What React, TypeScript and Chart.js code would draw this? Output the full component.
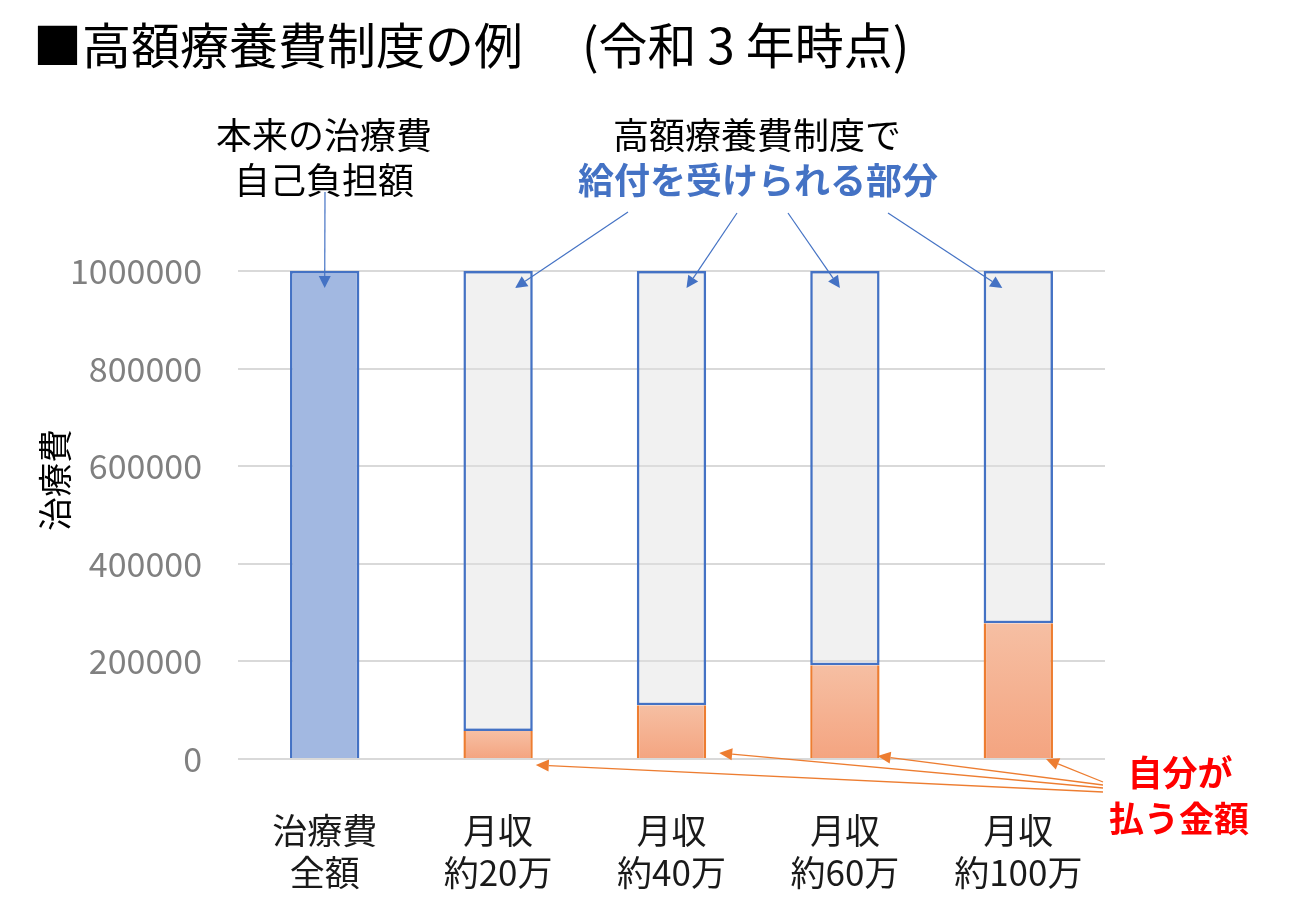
import React, { useEffect, useRef } from "react";
import { Chart, registerables } from "chart.js";

Chart.register(...registerables);

// ---- data ----
const categories: string[][] = [
  ["治療費", "全額"],
  ["月収", "約20万"],
  ["月収", "約40万"],
  ["月収", "約60万"],
  ["月収", "約100万"],
];
const selfPay: number[] = [1000000, 57600, 110000, 192000, 278000];
const benefit: (number | null)[] = [null, 942400, 890000, 808000, 722000];
const yMin = 0;
const yMax = 1000000;
const yStep = 200000;

const titleMain = "■高額療養費制度の例";
const titleNote = "(令和 3 年時点)";
const yAxisTitle = "治療費";
const noteLeft = ["本来の治療費", "自己負担額"];
const noteBenefitTop = "高額療養費制度で";
const noteBenefitBold = "給付を受けられる部分";
const noteSelf = ["自分が", "払う金額"];

// ---- styles ----
const JP = '"Noto Sans CJK JP", "Noto Sans", sans-serif';
const BLUE = "#4472C4";
const ORANGE = "#ED7D31";
const RED = "#FF0000";
const GRID = "#D9D9D9";

function drawArrow(
  ctx: CanvasRenderingContext2D,
  x1: number, y1: number, x2: number, y2: number,
  color: string, head = 12, hw = 6, lw = 1.3
) {
  const a = Math.atan2(y2 - y1, x2 - x1);
  const c = Math.cos(a), s = Math.sin(a);
  const bx = x2 - head * c, by = y2 - head * s;
  ctx.save();
  ctx.strokeStyle = color;
  ctx.fillStyle = color;
  ctx.lineWidth = lw;
  ctx.beginPath();
  ctx.moveTo(x1, y1);
  ctx.lineTo(bx, by);
  ctx.stroke();
  ctx.beginPath();
  ctx.moveTo(x2, y2);
  ctx.lineTo(bx + hw * s, by - hw * c);
  ctx.lineTo(bx - hw * s, by + hw * c);
  ctx.closePath();
  ctx.fill();
  ctx.restore();
}

const annotationPlugin = {
  id: "annotations",
  afterDatasetsDraw(chart: any) {
    const ctx = chart.ctx as CanvasRenderingContext2D;
    const { left, right } = chart.chartArea;
    const y0 = chart.scales.y.getPixelForValue(0);
    ctx.save();
    ctx.strokeStyle = GRID;
    ctx.lineWidth = 2;
    ctx.beginPath();
    ctx.moveTo(left, y0);
    ctx.lineTo(right, y0);
    ctx.stroke();
    ctx.restore();
  },
  afterDraw(chart: any) {
    const ctx = chart.ctx as CanvasRenderingContext2D;
    const ys = chart.scales.y;
    const yTop = ys.getPixelForValue(yMax);
    const yZero = ys.getPixelForValue(0);
    const m0 = chart.getDatasetMeta(0).data;

    ctx.save();
    // title
    ctx.fillStyle = "#000";
    ctx.textBaseline = "middle";
    ctx.textAlign = "left";
    ctx.font = `49px ${JP}`;
    ctx.fillText(titleMain, 33, 45);
    ctx.fillText(titleNote, 582, 45);

    // y axis title
    ctx.save();
    ctx.translate(55, 480);
    ctx.rotate(-Math.PI / 2);
    ctx.textAlign = "center";
    ctx.font = `34px ${JP}`;
    ctx.fillStyle = "#000";
    ctx.fillText(yAxisTitle, 0, 0);
    ctx.restore();

    // notes
    ctx.textAlign = "center";
    ctx.font = `36px ${JP}`;
    ctx.fillStyle = "#000";
    ctx.fillText(noteLeft[0], 324, 135);
    ctx.fillText(noteLeft[1], 324, 180);
    ctx.fillText(noteBenefitTop, 757, 135);
    ctx.font = `bold 36px ${JP}`;
    ctx.fillStyle = BLUE;
    ctx.fillText(noteBenefitBold, 758, 180);
    ctx.fillStyle = RED;
    ctx.font = `bold 35px ${JP}`;
    ctx.fillText(noteSelf[0], 1180, 773);
    ctx.fillText(noteSelf[1], 1179, 819);
    ctx.restore();

    // blue arrows
    const blueStarts = [
      [325, 192],
      [628, 212],
      [737, 213],
      [788, 213],
      [888, 213],
    ];
    const blueDx = [0, 17, 15, -5, -16];
    blueStarts.forEach((p, i) => {
      const el = m0[i];
      if (!el) return;
      drawArrow(ctx, p[0], p[1], el.x + blueDx[i], yTop + 17, BLUE, 12, 6, 1.2);
    });

    // orange arrows
    const oStartY = [0, 792, 788, 785, 782];
    const oDx = [0, 3, 13, -2, -7];
    const oDy = [0, 6, -6, -3, 0];
    for (let i = 1; i < 5; i++) {
      const el = m0[i];
      if (!el) continue;
      const rx = el.x + el.width / 2;
      drawArrow(ctx, 1103, oStartY[i], rx + oDx[i], yZero + oDy[i], ORANGE, 13, 6, 1.3);
    }
  },
};

export default function App() {
  const ref = useRef<HTMLCanvasElement | null>(null);

  useEffect(() => {
    const canvas = ref.current;
    if (!canvas) return;

    const selfColor = (c: any) => {
      const i = c.dataIndex;
      if (i === 0) return "#A2B8E1";
      const chart = c.chart;
      const ys = chart.scales && chart.scales.y;
      if (!chart.chartArea || !ys) return "#F5B293";
      const top = ys.getPixelForValue(selfPay[i]);
      const bot = ys.getPixelForValue(0);
      if (!isFinite(top) || !isFinite(bot) || top === bot) return "#F5B293";
      const g = chart.ctx.createLinearGradient(0, top, 0, bot);
      g.addColorStop(0, "#F6BFA3");
      g.addColorStop(1, "#F4A480");
      return g;
    };

    const chart = new Chart(canvas, {
      type: "bar",
      data: {
        labels: categories,
        datasets: [
          {
            label: "自己負担",
            data: selfPay,
            backgroundColor: selfColor as any,
            borderColor: selfPay.map((_, i) => (i === 0 ? BLUE : ORANGE)),
            borderWidth: selfPay.map((_, i) =>
              i === 0
                ? { top: 2.5, left: 2.5, right: 2.5, bottom: 0 }
                : { top: 0, left: 2.5, right: 2.5, bottom: 0 }
            ) as any,
            borderSkipped: false,
            categoryPercentage: 1,
            barPercentage: 0.4,
          },
          {
            label: "給付",
            data: benefit,
            backgroundColor: "rgba(225,225,225,0.45)",
            borderColor: BLUE,
            borderWidth: 2.5,
            borderSkipped: false,
            categoryPercentage: 1,
            barPercentage: 0.4,
          },
        ],
      },
      options: {
        responsive: false,
        animation: false,
        devicePixelRatio: 1,
        layout: { padding: { top: 271, right: 195, bottom: 0, left: 0 } },
        plugins: {
          legend: { display: false },
          title: { display: false },
          tooltip: { enabled: false },
        },
        scales: {
          x: {
            stacked: true,
            grid: { display: false, drawTicks: false },
            border: { display: false },
            ticks: {
              padding: 50,
              color: "#1A1A1A",
              font: { family: JP, size: 35, lineHeight: 1.22 },
              maxRotation: 0,
              autoSkip: false,
            },
            afterFit: (s: any) => {
              s.height = 161;
            },
          },
          y: {
            stacked: true,
            min: yMin,
            max: yMax,
            grid: { color: GRID, lineWidth: 2, drawTicks: false },
            border: { display: false },
            ticks: {
              stepSize: yStep,
              padding: 36,
              color: "#808080",
              font: { family: JP, size: 34 },
              callback: (v: any) => String(v),
            },
            afterFit: (s: any) => {
              s.width = 238;
            },
          },
        },
      },
      plugins: [annotationPlugin],
    });

    return () => chart.destroy();
  }, []);

  return (
    <div style={{ position: "absolute", left: 0, top: 0, width: 1300, height: 920, background: "#fff" }}>
      <canvas ref={ref} width={1300} height={920} />
    </div>
  );
}
